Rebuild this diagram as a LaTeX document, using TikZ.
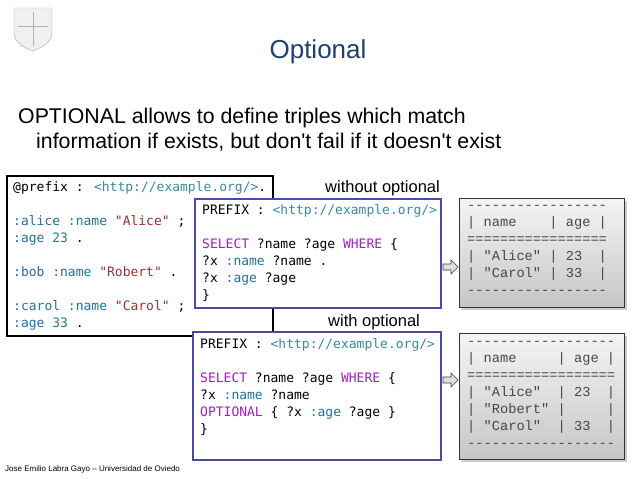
\documentclass[tikz,border=0pt]{standalone}
\usepackage{fontspec}
\setmainfont{Liberation Sans}
\newfontfamily\codefont{DejaVu Sans Mono}
\newfontfamily\resfont{Liberation Mono}
\usetikzlibrary{shadows}
\definecolor{titleblue}{HTML}{1F3F6F}
\definecolor{qblue}{HTML}{4A4AA8}
\definecolor{url}{HTML}{3A8A9A}
\definecolor{kw}{HTML}{A020C0}
\definecolor{prop}{HTML}{2070A0}
\definecolor{str}{HTML}{A03030}
\definecolor{num}{HTML}{208060}
\tikzset{
  x=1pt,y=-1pt,
  code/.style={anchor=north west,align=left,font=\codefont\fontsize{13}{17}\selectfont,inner sep=0pt},
  resbox/.style={draw=black!80,line width=0.8pt,top color=gray!8,bottom color=gray!45,drop shadow={opacity=0.4}},
  res/.style={anchor=north west,align=left,font=\resfont\fontsize{13.7}{17}\selectfont,inner sep=0pt,text=black!72},
  lab/.style={font=\fontsize{16.5}{18}\selectfont,inner sep=0pt},
  barrow/.style={draw=black!75,fill=gray!25,line width=0.6pt,line join=miter}
}
\newcommand\blockarrow[1]{\draw[barrow] (#1) ++(-7,-3) -- ++(8,0) -- ++(0,-4) -- ++(7,7) -- ++(-7,7) -- ++(0,-4) -- ++(-8,0) -- cycle;}
\begin{document}
\begin{tikzpicture}
\useasboundingbox (0,0) rectangle (638,479);
% logo placeholder crest
\draw[gray!70,fill=gray!12] (14,8) -- (52,8) -- (52,32) .. controls (52,44) and (40,48) .. (33,51) .. controls (26,48) and (14,44) .. (14,32) -- cycle;
\draw[gray!60] (33,12) -- (33,46) (18,26) -- (48,26);
% title
\node[text=titleblue,font=\fontsize{26}{30}\selectfont] (title) at (318,52) {Optional};
\node[anchor=west,font=\fontsize{21.3}{25}\selectfont,align=left,inner sep=0pt] (bul) at (18,130) {OPTIONAL allows to define triples which match\\\hspace*{18pt}information if exists, but don\textquotesingle t fail if it doesn\textquotesingle t exist};
% data box
\draw[line width=1.4pt] (7,176) rectangle (273,336);
\node[code] (data) at (13,181) {@prefix : \textcolor{url}{<http://example.org/>}.\\[17pt]
\textcolor{prop}{:alice} \textcolor{prop}{:name} \textcolor{str}{"Alice"} ;\\
\textcolor{prop}{:age} \textcolor{num}{23} .\\[17pt]
\textcolor{prop}{:bob} \textcolor{prop}{:name} \textcolor{str}{"Robert"} .\\[17pt]
\textcolor{prop}{:carol} \textcolor{prop}{:name} \textcolor{str}{"Carol"} ;\\
\textcolor{prop}{:age} \textcolor{num}{33} .};
% labels
\node[lab,anchor=west] (l1) at (325,188) {without optional};
\node[lab,anchor=west] (l2) at (328,322) {with optional};
% query boxes
\draw[qblue,line width=1.2pt,fill=white] (195,199) rectangle (441,308);
\node[code] (q1) at (202,204) {PREFIX : \textcolor{url}{<http://example.org/>}\\[17pt]
\textcolor{kw}{SELECT} ?name ?age \textcolor{kw}{WHERE} \{\\
?x \textcolor{prop}{:name} ?name .\\
?x \textcolor{prop}{:age} ?age\\
\}};
\draw[qblue,line width=1.2pt,fill=white] (193,332) rectangle (441,460);
\node[code] (q2) at (200,338) {PREFIX : \textcolor{url}{<http://example.org/>}\\[17pt]
\textcolor{kw}{SELECT} ?name ?age \textcolor{kw}{WHERE} \{\\
?x \textcolor{prop}{:name} ?name\\
\textcolor{kw}{OPTIONAL} \{ ?x \textcolor{prop}{:age} ?age \}\\
\}};
% result boxes
\draw[resbox] (459,198) rectangle (624,307);
\node[res] (r1) at (467,205) {-----------------\\
|~name~~~~|~age~|\\
=================\\
|~"Alice"~|~23~~|\\
|~"Carol"~|~33~~|\\
-----------------};
\draw[resbox] (459,333) rectangle (624,459);
\node[res] (r2) at (467,341) {------------------\\
|~name~~~~~|~age~|\\
==================\\
|~"Alice"~~|~23~~|\\
|~"Robert"~|~~~~~|\\
|~"Carol"~~|~33~~|\\
------------------};
% arrows
\coordinate (a1) at (450,267);
\coordinate (a2) at (450,380);
\blockarrow{a1}
\blockarrow{a2}
% footer
\node[anchor=west,font=\fontsize{8}{9}\selectfont,inner sep=0pt] (foot) at (5,469) {Jose Emilio Labra Gayo -- Universidad de Oviedo};
\end{tikzpicture}
\end{document}
